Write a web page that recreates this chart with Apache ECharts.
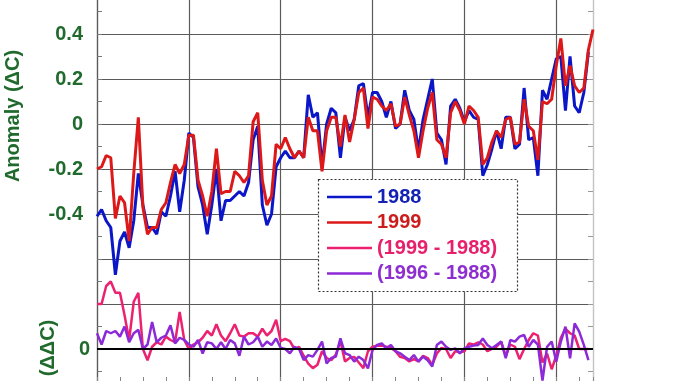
<!DOCTYPE html>
<html><head><meta charset="utf-8">
<script src="https://cdn.jsdelivr.net/npm/echarts@6/dist/echarts.min.js"></script>
<style>
html,body{margin:0;padding:0;background:#fff;width:678px;height:381px;overflow:hidden;position:relative}
#c{position:absolute;left:0;top:-11px;width:678px;height:405px}
</style>
</head><body><div id="c"></div>
<script>
// ---- data ----
const firstYear = 1880, lastYear = 1988;
const years = [];
for (let y = firstYear; y <= lastYear; y++) years.push(y);

// 1988 analysis (1880-1987)
const v1988 = [
-0.41,-0.38,-0.43,-0.46,-0.67,-0.52,-0.48,-0.55,-0.43,-0.22,
-0.36,-0.46,-0.46,-0.49,-0.39,-0.41,-0.32,-0.21,-0.39,-0.25,
-0.04,-0.06,-0.28,-0.36,-0.49,-0.36,-0.20,-0.43,-0.34,-0.34,
-0.32,-0.30,-0.32,-0.26,-0.07,-0.01,-0.36,-0.45,-0.40,-0.19,
-0.15,-0.12,-0.15,-0.15,-0.12,-0.15,0.13,0.03,0.05,-0.19,
0.00,0.07,0.05,-0.15,0.03,-0.03,0.02,0.17,0.18,0.03,
0.14,0.14,0.10,0.03,0.10,-0.02,0.00,0.15,0.06,0.02,
-0.12,0.02,0.11,0.20,-0.04,-0.07,-0.18,0.08,0.11,0.07,
0.01,0.06,0.03,0.02,-0.23,-0.18,-0.11,-0.03,-0.11,0.03,
0.03,-0.11,-0.09,0.16,-0.07,-0.06,-0.23,0.15,0.11,0.20,
0.29,0.30,0.06,0.30,0.08,0.05,0.14,0.32
];
// 1999 analysis (1880-1988)
const v1999 = [
-0.20,-0.19,-0.14,-0.15,-0.42,-0.32,-0.35,-0.52,-0.22,0.03,
-0.37,-0.49,-0.46,-0.46,-0.38,-0.35,-0.26,-0.18,-0.22,-0.18,
-0.05,-0.05,-0.25,-0.32,-0.41,-0.30,-0.11,-0.31,-0.30,-0.30,
-0.21,-0.23,-0.26,-0.23,0.01,0.05,-0.25,-0.36,-0.32,-0.09,
-0.11,-0.06,-0.11,-0.15,-0.12,-0.15,0.03,-0.03,-0.03,-0.21,
-0.03,0.03,0.03,-0.10,0.04,-0.08,0.02,0.14,0.16,-0.02,
0.12,0.11,0.08,0.06,0.09,-0.01,0.00,0.12,0.04,-0.03,
-0.15,-0.03,0.07,0.14,-0.07,-0.09,-0.15,0.05,0.10,0.06,
0.00,0.08,0.06,0.03,-0.18,-0.15,-0.08,-0.03,-0.06,0.02,
0.03,-0.09,-0.08,0.11,-0.01,-0.03,-0.16,0.10,0.09,0.11,
0.26,0.38,0.17,0.26,0.17,0.14,0.16,0.33,0.42
];
// difference 1999 - 1988 (1880-1987)
const d1999m1988 = [
0.20,0.20,0.28,0.30,0.25,0.25,0.15,0.04,0.21,0.25,
0.00,-0.05,0.01,0.03,0.02,0.055,0.04,0.03,0.165,0.04,
0.00,0.02,0.03,0.05,0.08,0.06,0.11,0.06,0.035,0.07,
0.11,0.06,0.055,0.07,0.07,0.055,0.09,0.06,0.08,0.13,
0.035,0.045,0.035,0.00,0.01,-0.03,-0.065,-0.085,-0.07,-0.01,
-0.04,-0.05,-0.025,0.035,-0.055,-0.04,-0.035,-0.06,-0.085,-0.01,
0.01,0.015,0.015,0.01,0.005,-0.01,-0.035,-0.04,-0.055,-0.045,
-0.055,-0.03,-0.04,-0.07,-0.02,0.005,0.00,-0.04,-0.01,-0.015,
-0.01,0.025,0.02,0.03,0.02,-0.01,0.00,0.01,0.033,-0.03,
0.02,0.01,-0.045,0.00,0.04,0.07,0.06,-0.06,-0.02,-0.09,
-0.03,0.05,0.09,0.07,0.06,0.00,0.00,0.00
];
// difference 1996 - 1988 (1880-1987)
const d1996m1988 = [
0.07,0.02,0.08,0.07,0.08,0.055,0.10,0.03,0.07,0.085,
0.00,0.02,0.12,0.03,0.05,0.06,0.105,0.025,0.05,0.04,
0.02,0.01,0.04,-0.02,0.03,0.025,0.00,0.03,0.00,0.04,
0.025,-0.03,0.055,0.02,0.03,0.055,0.01,0.033,0.018,0.047,
0.005,0.00,-0.019,0.01,0.00,-0.049,-0.027,-0.034,-0.004,0.033,
-0.064,-0.04,-0.034,0.047,-0.019,-0.027,-0.056,-0.034,-0.049,-0.086,
-0.004,0.018,0.025,0.003,0.018,-0.01,-0.019,-0.034,-0.049,-0.027,
-0.056,-0.034,-0.05,-0.078,0.018,0.033,0.01,-0.004,0.003,-0.019,
0.003,0.01,0.015,0.018,0.047,0.018,0.003,0.018,0.033,-0.041,
0.04,0.033,0.055,0.062,0.01,0.04,0.02,-0.14,0.01,0.033,
-0.056,0.033,0.099,-0.041,0.114,0.077,0.018,-0.049
];
const seriesNames = ['1988', '1999', '(1999 - 1988)', '(1996 - 1988)'];
const anomalyTickLabels = ['0.4', '0.2', '0', '-0.2', '-0.4'];
const diffTickLabels = ['0'];
const anomalyTitle = 'Anomaly (\u0394C)';
const diffTitle = '(\u0394\u0394C)';

// ---- styles ----
const OFF = 11; // canvas is shifted up by this many pixels
const GREEN = '#1f6a2c';
const GRID = '#5a5a5a';
const FONT = '"Liberation Sans", Arial, sans-serif';
const lineColors = ['#0a16c8', '#dc1818', '#ec2170', '#8c2ad8'];
const textColors = ['#1422b4', '#cc1c1c', '#e8206c', '#8e2ed0'];

const pair = (vals) => vals.map((v, i) => [years[i], v]);
const fmt = (v) => String(Math.round(v * 10) / 10);

const chart = echarts.init(document.getElementById('c'), null, {renderer: 'canvas'});
chart.setOption({
  animation: false,
  backgroundColor: '#fff',
  grid: {left: 97, right: 85, top: 0, bottom: 0, containLabel: false},
  xAxis: {
    type: 'value', min: firstYear, max: lastYear, interval: 20,
    axisLine: {show: true, onZero: false, lineStyle: {color: GRID}},
    axisTick: {show: true, inside: true, length: 17, lineStyle: {color: '#888'}},
    minorTick: {show: true, splitNumber: 4, length: 17, lineStyle: {color: '#888'}},
    axisLabel: {show: false},
    splitLine: {show: true, lineStyle: {color: [GRID, GRID, GRID, GRID, GRID, GRID, '#c4c4c4'], width: 1.2}}
  },
  yAxis: [
    {
      type: 'value', min: -1.2, max: 0.6, interval: 0.2, position: 'left',
      axisLine: {show: true, onZero: false, lineStyle: {color: GRID, width: 1.2}},
      axisTick: {show: true, inside: true, length: 5, lineStyle: {color: '#777'}},
      minorTick: {show: true, splitNumber: 2, length: 5, lineStyle: {color: '#777'}},
      splitLine: {show: true, lineStyle: {color: GRID, width: 1.2}},
      axisLabel: {
        show: true, margin: 14, color: GREEN, fontSize: 20, fontWeight: 'bold', fontFamily: FONT,
        formatter: (v) => anomalyTickLabels.indexOf(fmt(v)) >= 0 ? fmt(v) : ''
      }
    },
    {
      type: 'value', min: -0.2, max: 1.6, interval: 0.2, position: 'left',
      axisLine: {show: false, onZero: false}, axisTick: {show: false}, splitLine: {show: false},
      axisLabel: {
        show: true, margin: 7, color: GREEN, fontSize: 20, fontWeight: 'bold', fontFamily: FONT,
        formatter: (v) => diffTickLabels.indexOf(fmt(v)) >= 0 ? fmt(v) : ''
      }
    },
    {
      type: 'value', min: -1.2, max: 0.6, interval: 0.2, position: 'right',
      axisLine: {show: true, onZero: false, lineStyle: {color: '#c4c4c4', width: 1.2}},
      axisTick: {show: true, inside: true, length: 5, lineStyle: {color: '#999'}},
      minorTick: {show: true, splitNumber: 2, length: 5, lineStyle: {color: '#999'}},
      splitLine: {show: false}, axisLabel: {show: false}
    }
  ],
  legend: {
    orient: 'vertical', left: 327, top: 187 + OFF, padding: 0,
    icon: 'rect', itemWidth: 45, itemHeight: 2.5, itemGap: 5.5, selectedMode: false, z: 20,
    textStyle: {fontSize: 20, fontWeight: 'bold', fontFamily: FONT, lineHeight: 20},
    data: seriesNames.map((n, i) => ({name: n, textStyle: {color: textColors[i]}}))
  },
  graphic: [
    {type: 'rect', z: 15, shape: {x: 318.5, y: 179.5 + OFF, width: 199, height: 112},
     style: {fill: '#fff', stroke: '#333', lineWidth: 1.2, lineDash: [2, 2]}},
    {type: 'text', x: 13, y: 116 + OFF, rotation: Math.PI / 2, z: 20,
     style: {text: anomalyTitle, fill: GREEN, font: 'bold 20px ' + FONT,
             align: 'center', verticalAlign: 'middle', textAlign: 'center', textVerticalAlign: 'middle'}},
    {type: 'text', x: 48, y: 348 + OFF, rotation: Math.PI / 2, z: 20,
     style: {text: diffTitle, fill: GREEN, font: 'bold 20px ' + FONT,
             align: 'center', verticalAlign: 'middle', textAlign: 'center', textVerticalAlign: 'middle'}}
  ],
  series: [
    {name: seriesNames[0], type: 'line', yAxisIndex: 0, data: pair(v1988), symbol: 'none', showSymbol: false,
     lineStyle: {color: lineColors[0], width: 3}, itemStyle: {color: lineColors[0]}},
    {name: seriesNames[1], type: 'line', yAxisIndex: 0, data: pair(v1999), symbol: 'none', showSymbol: false,
     lineStyle: {color: lineColors[1], width: 3}, itemStyle: {color: lineColors[1]}},
    {name: seriesNames[2], type: 'line', yAxisIndex: 1, data: pair(d1999m1988), symbol: 'none', showSymbol: false,
     lineStyle: {color: lineColors[2], width: 2.5}, itemStyle: {color: lineColors[2]}},
    {name: seriesNames[3], type: 'line', yAxisIndex: 1, data: pair(d1996m1988), symbol: 'none', showSymbol: false,
     lineStyle: {color: lineColors[3], width: 2.5}, itemStyle: {color: lineColors[3]},
     markLine: {silent: true, symbol: 'none', label: {show: false},
                lineStyle: {color: '#000', width: 2, type: 'solid'}, data: [{yAxis: 0}]}}
  ]
});
</script>
</body></html>
